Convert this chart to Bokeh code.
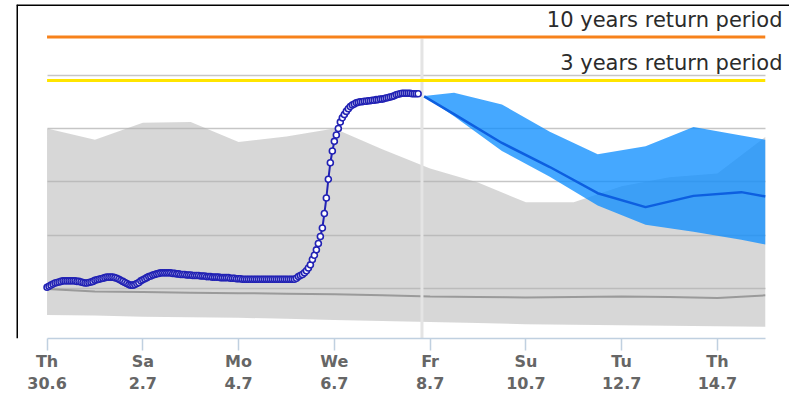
from bokeh.plotting import figure
from bokeh.models import Range1d, FixedTicker, Span
from bokeh.core.properties import value
from bokeh.embed import file_html
from bokeh.resources import INLINE

# ---------------- data ----------------
tick_days = [0, 2, 4, 6, 8, 10, 12, 14]
tick_weekdays = ["Th", "Sa", "Mo", "We", "Fr", "Su", "Tu", "Th"]
tick_dates = ["30.6", "2.7", "4.7", "6.7", "8.7", "10.7", "12.7", "14.7"]

# observed level, hourly from Th 30.6 00:00
obs_level = [
    10.3, 10.5, 10.7, 10.9, 11.1, 11.2, 11.3, 11.4, 11.5, 11.5,
    11.5, 11.5, 11.5, 11.5, 11.5, 11.4, 11.4, 11.3, 11.2, 11.1,
    11.1, 11.2, 11.3, 11.4, 11.6, 11.7, 11.8, 11.9, 12.0, 12.1,
    12.2, 12.2, 12.2, 12.2, 12.1, 12.0, 11.8, 11.6, 11.4, 11.2,
    11.0, 10.8, 10.7, 10.7, 10.8, 11.0, 11.2, 11.5, 11.7, 11.9,
    12.1, 12.3, 12.4, 12.6, 12.7, 12.8, 12.9, 13.0, 13.0, 13.0,
    13.0, 13.0, 13.0, 12.9, 12.9, 12.8, 12.8, 12.7, 12.7, 12.7,
    12.6, 12.6, 12.6, 12.5, 12.5, 12.5, 12.5, 12.4, 12.4, 12.4,
    12.3, 12.3, 12.3, 12.2, 12.2, 12.2, 12.2, 12.1, 12.1, 12.1,
    12.1, 12.1, 12.0, 12.0, 12.0, 11.9, 11.9, 11.9, 11.8, 11.8,
    11.8, 11.8, 11.8, 11.8, 11.8, 11.8, 11.8, 11.8, 11.8, 11.8,
    11.8, 11.8, 11.8, 11.8, 11.8, 11.8, 11.8, 11.8, 11.8, 11.8,
    11.8, 11.8, 11.8, 11.8, 11.8, 12.0, 12.3, 12.5, 12.7, 13.0,
    13.4, 13.9, 14.5, 15.5, 16.3, 17.3, 18.5, 19.8, 21.4, 24.1,
    27.0, 30.5, 33.6, 35.8, 37.6, 38.8, 40.0, 41.2, 42.0, 42.6,
    43.2, 43.7, 44.1, 44.4, 44.6, 44.8, 44.9, 45.0, 45.0, 45.1,
    45.1, 45.2, 45.2, 45.3, 45.3, 45.4, 45.4, 45.5, 45.5, 45.6,
    45.7, 45.8, 45.9, 46.0, 46.1, 46.3, 46.4, 46.5, 46.6, 46.6,
    46.6, 46.6, 46.6, 46.5, 46.5, 46.5, 46.5,
]
obs_hour = list(range(len(obs_level)))

# climatology band (daily)
clim_days = [0, 1, 2, 3, 4, 5, 6, 7, 8, 9, 10, 11, 12, 13, 14, 15]
clim_high = [40.0, 37.9, 41.1, 41.2, 37.5, 38.5, 40.0, 36.1, 32.5, 29.9, 26.2, 26.2, 29.2, 30.9, 31.6, 38.4]
clim_low = [5.1, 5.0, 4.8, 4.7, 4.6, 4.4, 4.2, 4.0, 3.8, 3.6, 3.4, 3.3, 3.2, 3.1, 3.0, 2.9]
clim_median = [10.0, 9.5, 9.4, 9.3, 9.2, 9.1, 9.0, 8.8, 8.6, 8.5, 8.4, 8.5, 8.6, 8.5, 8.3, 8.8]

# forecast
fc_days = [7.875, 8.5, 9.5, 10.5, 11.5, 12.5, 13.5, 14.5, 15.0]
fc_high = [46.1, 46.7, 44.5, 39.4, 35.2, 36.7, 40.3, 38.7, 37.9]
fc_low = [46.1, 42.3, 35.8, 31.0, 25.6, 22.0, 20.7, 19.2, 18.3]
fc_median = [46.0, 42.7, 37.3, 32.8, 27.9, 25.3, 27.4, 28.1, 27.3]

now_day = 7.83
rp_levels = [57.1, 49.0]
rp_labels = ["10 years return period", "3 years return period"]
grid_levels = [10, 20, 30, 40, 50]

# ---------------- figure ----------------
x_start, x_end = -0.638, 15.506
y_start, y_end = 0.72, 63.2
data_end = 15.0
label_x = 15.36
FONT = "DejaVu Sans"

p = figure(width=789, height=396,
           x_range=Range1d(x_start, x_end), y_range=Range1d(y_start, y_end),
           output_backend="svg", toolbar_location=None, y_axis_location=None,
           min_border_left=16, min_border_right=0, min_border_top=4, min_border_bottom=0)
p.outline_line_color = None
p.background_fill_color = "white"
p.border_fill_color = "white"
p.xgrid.visible = False

g = p.ygrid[0]
g.ticker = FixedTicker(ticks=grid_levels)
g.grid_line_color = "#C6C6C6"
g.grid_line_width = 1.5
grid_ok = True
try:
    g.cross_bounds = (0, data_end)
except Exception:
    grid_ok = False
if not grid_ok:
    g.visible = False
    p.segment(x0=0, x1=data_end, y0=grid_levels, y1=grid_levels,
              line_color="#C6C6C6", line_width=1.5)

# climatology band & median
p.varea(x=clim_days, y1=clim_low, y2=clim_high, fill_color="#B0B0B0", fill_alpha=0.5)
p.line(clim_days, clim_median, line_color="#9A9A9A", line_width=2)

# "now" line
p.segment(x0=[now_day], x1=[now_day], y0=[y_start], y1=[56.8],
          line_color="#E4E4E4", line_width=3)

# return period lines
p.segment(x0=0, x1=data_end, y0=[rp_levels[0]], y1=[rp_levels[0]],
          line_color="#F7821B", line_width=3)
p.segment(x0=0, x1=data_end, y0=[rp_levels[1]], y1=[rp_levels[1]],
          line_color="#FFE500", line_width=3)
p.text(x=[label_x, label_x], y=rp_levels, text=rp_labels, text_align="right",
       text_baseline="bottom", y_offset=-5, text_font=value(FONT),
       text_font_size="21px", text_color="#2B2B2B")

# observed
obs_day = [h / 24 for h in obs_hour]
p.line(obs_day, obs_level, line_color="#2222B4", line_width=2)
p.scatter(obs_day, obs_level, marker="circle", size=6, fill_color="white",
          line_color="#2222B4", line_width=1.6)

# forecast
p.varea(x=fc_days, y1=fc_low, y2=fc_high, fill_color="#0A8CFF", fill_alpha=0.76)
p.line(fc_days, fc_median, line_color="#0D5FE0", line_width=2.5)

# frame border (left/top)
p.add_layout(Span(location=x_start, dimension="height", line_color="black", line_width=3))
p.add_layout(Span(location=y_end, dimension="width", line_color="black", line_width=3))

# x axis
ax = p.xaxis[0]
ax.ticker = FixedTicker(ticks=tick_days)
ax.major_label_overrides = {d: f"{w}\n{dt}" for d, w, dt in zip(tick_days, tick_weekdays, tick_dates)}
ax.bounds = (0, data_end)
ax.axis_line_color = "#C0D0E0"
ax.axis_line_width = 1.5
ax.major_tick_line_color = "#C0D0E0"
ax.major_tick_line_width = 1.5
ax.major_tick_out = 12
ax.major_tick_in = 0
ax.minor_tick_line_color = None
ax.major_label_standoff = 1
ax.major_label_text_font = FONT
ax.major_label_text_font_style = "bold"
ax.major_label_text_font_size = "16px"
ax.major_label_text_color = "#666666"

open("out.html", "w").write(file_html(p, INLINE, title="chart"))
